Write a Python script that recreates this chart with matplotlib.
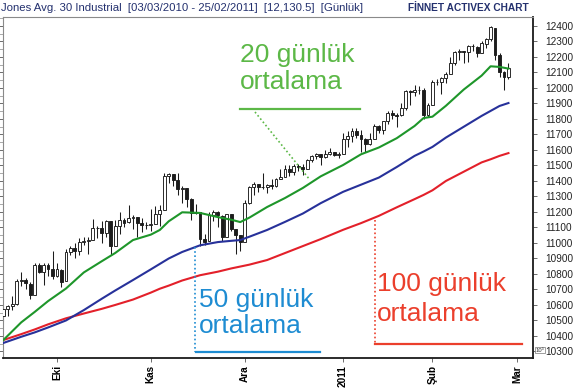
import numpy as np
import matplotlib
matplotlib.use("Agg")
import matplotlib.pyplot as plt
from matplotlib.lines import Line2D
from matplotlib.ticker import MultipleLocator

# ---------------- data ----------------
start_date = "2010-09-15"
holidays = ["2010-11-25", "2010-12-24", "2011-01-17", "2011-02-21"]

opens = [10526, 10572, 10595, 10608, 10753, 10761, 10738, 10664, 10860, 10812, 10857, 10835,
         10789, 10828, 10752, 10944, 10968, 10948, 11006, 11010, 11021, 11096, 11095, 11062, 11141, 10978, 11109, 11146, 11133, 11163, 11168, 11127, 11113,
         11119, 11125, 11187, 11216, 11434, 11442, 11406, 11346, 11356, 11283, 11193, 11200, 11023, 11011, 11182, 11203, 11177, 11037, 11186, 11092, 11051,
         11007, 11255, 11362, 11381, 11363, 11359, 11373, 11370, 11410, 11428, 11476, 11457, 11499, 11492, 11479, 11534, 11559, 11573, 11555, 11576, 11585, 11569,
         11577, 11670, 11688, 11722, 11696, 11673, 11638, 11672, 11755, 11731, 11787, 11837, 11825, 11823, 11872, 11978, 11977, 11985, 11990, 11824,
         11892, 12040, 12040, 12062, 12092, 12162, 12233, 12238, 12229, 12273, 12267, 12227, 12287, 12319, 12390, 12212, 12105, 12070]
highs = [10594, 10600, 10660, 10770, 10810, 10775, 10750, 10870, 10870, 10870, 10870, 10948,
         10870, 10830, 10960, 10980, 11000, 11030, 11040, 11040, 11155, 11110, 11140, 11150, 11142, 11150, 11200, 11160, 11245, 11180, 11169, 11160, 11135,
         11220, 11240, 11245, 11450, 11452, 11445, 11450, 11365, 11356, 11290, 11250, 11200, 11060, 11200, 11210, 11205, 11178, 11190, 11187, 11093, 11052,
         11280, 11370, 11395, 11383, 11450, 11380, 11410, 11420, 11480, 11500, 11500, 11510, 11510, 11510, 11540, 11570, 11580, 11575, 11600, 11610, 11590, 11590,
         11710, 11720, 11740, 11745, 11730, 11680, 11710, 11770, 11760, 11790, 11850, 11860, 11840, 11900, 11985, 11990, 12020, 12010, 12000, 11900,
         12050, 12060, 12070, 12100, 12200, 12240, 12250, 12240, 12280, 12285, 12270, 12300, 12320, 12400, 12390, 12225, 12110, 12160]
lows = [10495, 10530, 10570, 10600, 10720, 10700, 10640, 10664, 10805, 10730, 10790, 10770,
        10780, 10715, 10752, 10920, 10900, 10920, 10990, 10930, 11020, 11030, 11000, 11040, 10920, 10978, 11060, 11100, 11130, 11090, 11040, 11070, 11090,
        11075, 11125, 11110, 11216, 11390, 11370, 11310, 11260, 11230, 11150, 11190, 10980, 10990, 11011, 11140, 11100, 11010, 11037, 11080, 10930, 10950,
        11007, 11250, 11310, 11330, 11350, 11320, 11350, 11360, 11410, 11425, 11430, 11440, 11465, 11440, 11479, 11525, 11545, 11500, 11550, 11570, 11560, 11550,
        11577, 11620, 11650, 11675, 11590, 11590, 11630, 11672, 11710, 11700, 11770, 11800, 11750, 11822, 11860, 11890, 11950, 11960, 11800, 11810,
        11892, 12020, 11960, 12030, 12090, 12150, 12180, 12160, 12170, 12240, 12200, 12225, 12260, 12300, 12180, 12070, 11985, 12060]
closes = [10572, 10594, 10607, 10753, 10761, 10739, 10662, 10860, 10812, 10858, 10835, 10788,
          10829, 10751, 10944, 10967, 10948, 11006, 11010, 11020, 11096, 11094, 11062, 11143, 10978, 11107, 11146, 11132, 11164, 11169, 11126, 11113, 11118,
          11124, 11188, 11215, 11434, 11444, 11406, 11346, 11357, 11283, 11192, 11201, 11023, 11007, 11181, 11203, 11178, 11036, 11187, 11092, 11052, 11006,
          11255, 11362, 11382, 11362, 11359, 11372, 11370, 11410, 11428, 11476, 11457, 11499, 11491, 11478, 11533, 11559, 11573, 11555, 11575, 11585, 11569, 11577,
          11670, 11691, 11722, 11697, 11674, 11637, 11671, 11755, 11731, 11787, 11837, 11825, 11822, 11871, 11980, 11977, 11985, 11989, 11823, 11891,
          12040, 12041, 12062, 12092, 12161, 12233, 12239, 12229, 12273, 12268, 12226, 12288, 12318, 12391, 12212, 12105, 12068, 12130]

ma_dates = ["2010-09-15", "2010-09-21", "2010-09-24", "2010-09-29", "2010-10-05", "2010-10-11",
            "2010-10-15", "2010-10-20", "2010-10-26", "2010-11-01", "2010-11-03", "2010-11-05",
            "2010-11-10", "2010-11-16", "2010-11-22", "2010-11-26", "2010-11-30", "2010-12-02",
            "2010-12-08", "2010-12-14", "2010-12-20", "2010-12-27", "2011-01-03", "2011-01-07",
            "2011-01-13", "2011-01-20", "2011-01-26", "2011-01-28", "2011-02-01", "2011-02-04",
            "2011-02-10", "2011-02-16", "2011-02-18", "2011-02-23", "2011-02-25"]
ma20 = [10374, 10488, 10555, 10625, 10706, 10810, 10882, 10935, 11019, 11054, 11084, 11140,
        11198, 11194, 11167, 11150, 11135, 11163, 11232, 11290, 11355, 11430, 11503, 11572,
        11616, 11676, 11755, 11806, 11815, 11885, 11990, 12080, 12140, 12136, 12125]
ma50 = [10355, 10395, 10423, 10455, 10500, 10567, 10640, 10693, 10761, 10830, 10865, 10900,
        10942, 10985, 11006, 11014, 11019, 11040, 11084, 11136, 11190, 11257, 11330, 11376,
        11422, 11490, 11562, 11590, 11620, 11680, 11750, 11820, 11852, 11884, 11903]
ma100 = [10374, 10412, 10442, 10475, 10514, 10545, 10575, 10600, 10635, 10680, 10705, 10725,
         10758, 10792, 10815, 10836, 10848, 10860, 10890, 10935, 10980, 11025, 11085, 11128,
         11175, 11230, 11283, 11310, 11340, 11400, 11460, 11520, 11540, 11562, 11580]

tick_dates = ["2010-10-01", "2010-11-01", "2010-12-01", "2011-01-01", "2011-02-01", "2011-03-01"]
tick_labels = ["Eki", "Kas", "Ara", "2011", "Şub", "Mar"]
y_ticks = list(range(10300, 12401, 100))

title_left = "Jones Avg. 30 Industrial  [03/03/2010 - 25/02/2011]  [12,130.5]  [Günlük]"
title_right = "FİNNET ACTIVEX CHART"

# ---------------- figure ----------------
W, H = 575, 388
plt.rcParams['font.family'] = ['Liberation Sans', 'DejaVu Sans']
fig = plt.figure(figsize=(W / 100, H / 100), dpi=100)
fig.patch.set_facecolor('white')


def fx(x):
    return x / W


def fy(y):
    return 1 - y / H


ax = fig.add_axes([fx(3), fy(358), (533 - 3) / W, (358 - 17) / H])

o = np.array(opens, float)
h = np.array(highs, float)
l = np.array(lows, float)
c = np.array(closes, float)
pos = np.arange(len(c))
up = c >= o

ink = '#1c1c1c'
ax.vlines(pos, l, h, color=ink, lw=0.75, zorder=2)
ax.bar(pos[up], (c - o)[up], bottom=o[up], width=0.64, color='white',
       edgecolor=ink, linewidth=0.65, zorder=3)
ax.bar(pos[~up], (o - c)[~up], bottom=c[~up], width=0.64, color=ink,
       edgecolor=ink, linewidth=0.65, zorder=3)

ma_pos = np.busday_count(start_date, np.array(ma_dates, dtype='datetime64[D]'), holidays=holidays)
ax.plot(ma_pos, ma100, color='#e3202a', lw=1.5, zorder=4)
ax.plot(ma_pos, ma50, color='#27319a', lw=1.5, zorder=4)
ax.plot(ma_pos, ma20, color='#1e962a', lw=1.5, zorder=5)

ax.set_ylim(10258, 12458)
ax.set_xlim(-0.08, 118.49)

tick_pos = np.busday_count(start_date, np.array(tick_dates, dtype='datetime64[D]'), holidays=holidays)
ax.set_xticks(tick_pos)
ax.set_xticklabels(tick_labels, rotation=90, fontsize=7.2, fontweight='bold', va='top')
ax.tick_params(axis='x', length=3, width=0.6, color='#555', pad=2)

ax.yaxis.tick_right()
ax.set_yticks(y_ticks)
ax.set_yticklabels([str(v) for v in y_ticks], fontsize=7.2, color='#222')
ax.yaxis.set_minor_locator(MultipleLocator(50))
ax.tick_params(axis='y', which='major', left=True, right=True, length=3, width=0.6,
               color='#555', pad=6)
ax.tick_params(axis='y', which='minor', left=True, right=False, length=3, width=0.5, color='#888')

for s in ['top', 'left']:
    ax.spines[s].set_color('#8a8a8a')
    ax.spines[s].set_linewidth(0.8)
for s in ['right', 'bottom']:
    ax.spines[s].set_color('#1a1a1a')
    ax.spines[s].set_linewidth(1.3)

# titles
fig.text(fx(1), fy(8), title_left, fontsize=8.2, color='#23306e', va='center', ha='left')
fig.text(fx(529), fy(8), title_right, fontsize=7.3, color='#23306e', va='center', ha='right',
         fontweight='bold')

# 10^3 marker box
fig.text(fx(540), fy(350), "10³", fontsize=4.2, color='#333', ha='center', va='center',
         bbox=dict(boxstyle='square,pad=0.15', fc='white', ec='#777', lw=0.5))

# annotations
green_t = '#5cb847'
blue_t = '#1e8cd2'
red_t = '#eb3f2c'
fs = 19

fig.text(fx(240), fy(62), "20 günlük", fontsize=fs, color=green_t, va='baseline', ha='left')
fig.text(fx(240), fy(89), "ortalama", fontsize=fs, color=green_t, va='baseline', ha='left')
fig.add_artist(Line2D([fx(240), fx(360)], [fy(109), fy(109)], color=green_t, lw=1.6))
fig.add_artist(Line2D([fx(255), fx(310)], [fy(112), fy(180)], color=green_t, lw=1.2,
                      linestyle=(0, (1, 1.5))))

fig.text(fx(199), fy(307), "50 günlük", fontsize=fs, color=blue_t, va='baseline', ha='left')
fig.text(fx(199), fy(333), "ortalama", fontsize=fs, color=blue_t, va='baseline', ha='left')
fig.add_artist(Line2D([fx(196), fx(320)], [fy(352), fy(352)], color=blue_t, lw=1.6))
fig.add_artist(Line2D([fx(195), fx(195)], [fy(247), fy(352)], color=blue_t, lw=1.2,
                      linestyle=(0, (1, 1.5))))

fig.text(fx(377), fy(291), "100 günlük", fontsize=fs, color=red_t, va='baseline', ha='left')
fig.text(fx(377), fy(321), "ortalama", fontsize=fs, color=red_t, va='baseline', ha='left')
fig.add_artist(Line2D([fx(375), fx(522)], [fy(344), fy(344)], color=red_t, lw=1.6))
fig.add_artist(Line2D([fx(375), fx(375)], [fy(220), fy(344)], color=red_t, lw=1.2,
                      linestyle=(0, (1, 1.5))))

fig.savefig("out.png", dpi=100, facecolor='white')
